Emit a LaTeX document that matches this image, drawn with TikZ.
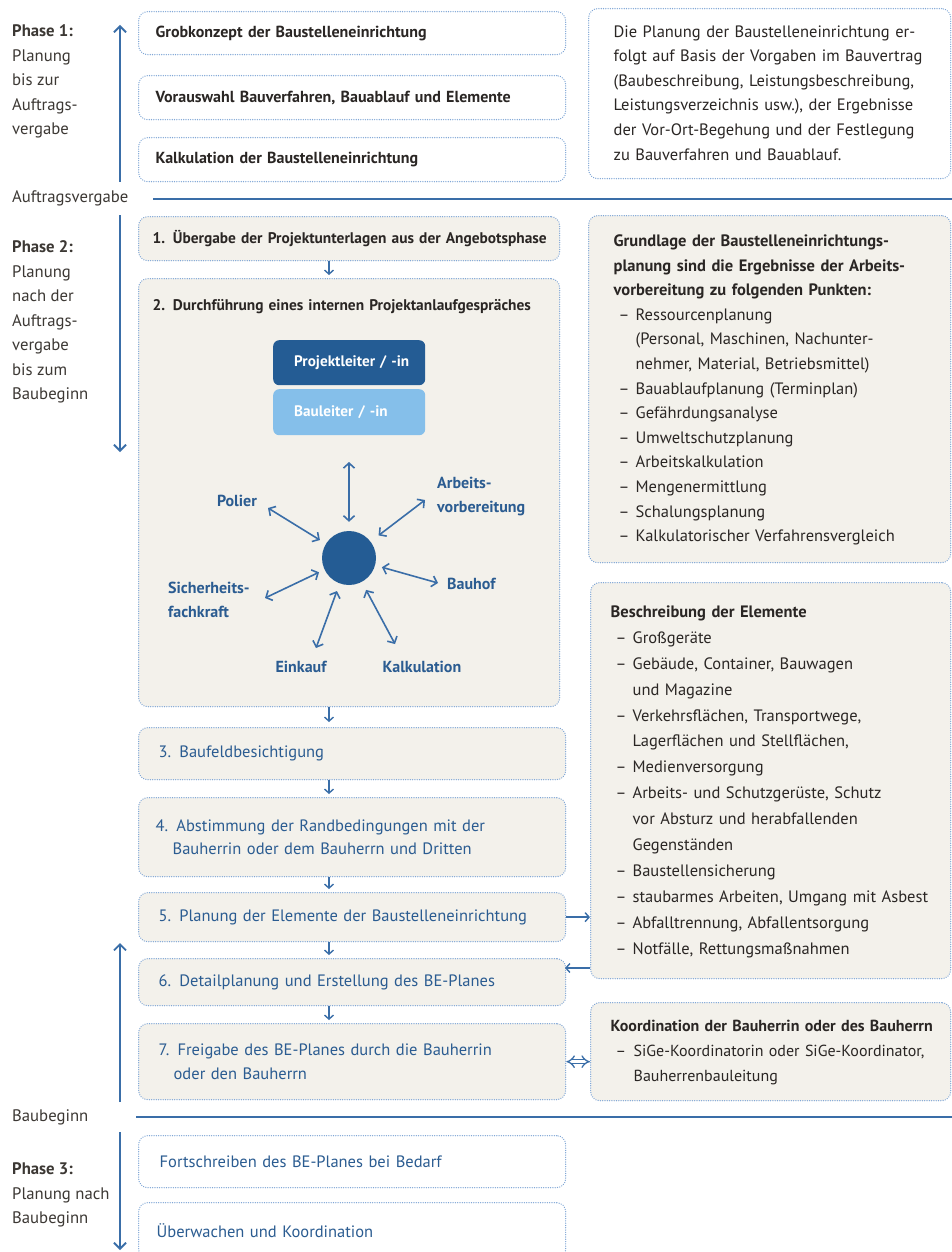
\documentclass[tikz,border=0pt]{standalone}
\usepackage{fontspec}
\setmainfont{PT Sans}
\usetikzlibrary{arrows.meta,calc}
\definecolor{lnblue}{HTML}{3A6EA8}
\definecolor{dotblue}{HTML}{7FA6D6}
\definecolor{beige}{HTML}{F3F1EB}
\definecolor{hubblue}{HTML}{245C94}
\definecolor{lightbox}{HTML}{85BFEA}
\definecolor{tblue}{HTML}{2B5C91}
\definecolor{ink}{HTML}{2A2624}
\definecolor{labink}{HTML}{3C3834}
\newcommand{\bitem}[1]{\hspace*{5pt}\makebox[17pt][l]{–}#1}
\newcommand{\bcont}[1]{\hspace*{22pt}#1}
\newcommand{\txtblock}[1]{\begin{tabular}{@{}l@{}}#1\end{tabular}}
\begin{document}
\begin{tikzpicture}[x=1pt,y=-1pt,
  bx/.style={rectangle, rounded corners=9pt, draw=dotblue, line width=1.3pt, line cap=round,
     dash pattern=on 0.1pt off 2.2pt, fill=white, text width=393pt, inner xsep=17pt,
     inner ysep=0pt, align=left, anchor=north west},
  bxb/.style={bx, fill=beige},
  boldtxt/.style={font=\fontsize{16}{23}\selectfont\bfseries, text=ink},
  boldnarrow/.style={font=\fontsize{15.4}{23}\selectfont\bfseries, text=ink},
  bluetxt/.style={font=\fontsize{16.5}{23.5}\selectfont, text=tblue},
  sidetxt/.style={font=\fontsize{16.5}{24.6}\selectfont, text=ink},
  lab/.style={font=\fontsize{16.7}{24.5}\selectfont, text=labink, align=left, anchor=west, inner sep=0pt},
  star/.style={font=\fontsize{16}{24}\selectfont\bfseries, text=tblue, align=left, inner sep=0pt},
  flow/.style={draw=lnblue, line width=1.4pt, -{Straight Barb[length=4pt,width=9pt]}},
  phase/.style={draw=lnblue, line width=1.8pt, -{Straight Barb[length=6pt,width=12pt]}},
  spoke/.style={draw=lnblue, line width=1.6pt, {Straight Barb[length=5pt,width=11pt]}-{Straight Barb[length=5pt,width=11pt]}},
  sep/.style={draw=lnblue, line width=2pt},
  rolebox/.style={rectangle, rounded corners=6pt, text width=110pt, inner xsep=21pt, inner ysep=0pt,
      anchor=north west, align=left, font=\fontsize{15.2}{20}\selectfont\bfseries, text=white},
]
\fill[white] (0,0) rectangle (952,1252);
\useasboundingbox (0,0) rectangle (952,1252);

% ---------- left labels ----------
\node[lab] (ph1) at (12,81.5) {\textbf{Phase 1:}\\Planung\\bis zur\\Auftrags-\\vergabe};
\node[lab] (auv) at (12,198) {Auftragsvergabe};
\node[lab] (ph2) at (12,322) {\textbf{Phase 2:}\\Planung\\nach der\\Auftrags-\\vergabe\\bis zum\\Baubeginn};
\node[lab] (bbg) at (12,1117) {Baubeginn};
\node[lab] (ph3) at (12,1195) {\textbf{Phase 3:}\\Planung nach\\Baubeginn};

% ---------- phase arrows and separators ----------
\coordinate (p1s) at (120,182); \coordinate (p1e) at (120,25);
\coordinate (p2s) at (120,215); \coordinate (p2e) at (120,452);
\coordinate (p2bs) at (120,1102); \coordinate (p2be) at (120,943);
\coordinate (p3s) at (120,1132); \coordinate (p3e) at (120,1250);
\draw[phase] (p1s) -- (p1e);
\draw[phase] (p2s) -- (p2e);
\draw[phase] (p2bs) -- (p2be);
\draw[phase] (p3s) -- (p3e);
\coordinate (av1) at (153,199); \coordinate (av2) at (952,199);
\coordinate (bb1) at (136,1117); \coordinate (bb2) at (952,1117);
\draw[sep] (av1) -- (av2);
\draw[sep, line width=2.6pt] (bb1) -- (bb2);

% ---------- phase 1 ----------
\node[bx, boldtxt, minimum height=43pt] (g1) at (138,11) {Grobkonzept der Baustelleneinrichtung};
\node[bx, boldtxt, minimum height=44pt] (g2) at (138,75) {Vorauswahl Bauverfahren, Bauablauf und Elemente};
\node[bx, boldtxt, minimum height=44pt] (g3) at (138,137) {Kalkulation der Baustelleneinrichtung};

\node[bx, sidetxt, text width=312pt, inner xsep=25pt, minimum height=170pt] (info) at (588,8)
 {\txtblock{Die Planung der Baustelleneinrichtung er-\\
  folgt auf Basis der Vorgaben im Bauvertrag\\
  (Baubeschreibung, Leistungsbeschreibung,\\
  Leistungsverzeichnis usw.), der Ergebnisse\\
  der Vor-Ort-Begehung und der Festlegung\\
  zu Bauverfahren und Bauablauf.}};

% ---------- phase 2 ----------
\node[bxb, boldnarrow, minimum height=44pt, inner xsep=14pt] (b1) at (138,216) {\mbox{1. Übergabe der Projektunterlagen aus der Angebotsphase}};
\node[bxb, boldnarrow, inner xsep=14pt, text height=32pt, text depth=396pt] (b2) at (138,278) {\mbox{2. Durchführung eines internen Projektanlaufgespräches}};

\node[rolebox, fill=hubblue, minimum height=45pt] (pl) at (273,340) {\mbox{Projektleiter / -in}};
\node[rolebox, fill=lightbox, minimum height=46pt] (bl) at (273,389) {\mbox{Bauleiter / -in}};

\node[circle, fill=hubblue, minimum size=54pt, inner sep=0pt] (hub) at (349,558) {};
\node[star, anchor=center] (polier) at (237,501) {Polier};
\node[star, anchor=west] (avb) at (437,497) {Arbeits-\\vorbereitung};
\node[star, anchor=west] (bauhof) at (447,584) {Bauhof};
\node[star, anchor=west] (sifa) at (168,600) {Sicherheits-\\fachkraft};
\node[star, anchor=center] (einkauf) at (301,667) {Einkauf};
\node[star, anchor=center] (kalk) at (422,667) {Kalkulation};

\coordinate (sUp) at (349,462);
\coordinate (sPol) at (268,508);
\coordinate (sAvb) at (425,500);
\coordinate (sBau) at (438,583);
\coordinate (sSif) at (265,598);
\coordinate (sEin) at (316,648);
\coordinate (sKal) at (395,644);
\draw[spoke, shorten >=9pt] (sUp) -- (hub);
\draw[spoke, shorten >=7pt] (sPol) -- (hub);
\draw[spoke, shorten >=10pt] (sAvb) -- (hub);
\draw[spoke, shorten >=7pt] (sBau) -- (hub);
\draw[spoke, shorten >=6pt] (sSif) -- (hub);
\draw[spoke, shorten >=8pt] (sEin) -- (hub);
\draw[spoke, shorten >=9pt] (sKal) -- (hub);

\node[bxb, bluetxt, minimum height=52pt] (b3) at (138,727) {\hspace*{3pt}3. Baufeldbesichtigung};
\node[bxb, bluetxt, minimum height=79pt] (b4) at (138,797) {4. Abstimmung der Randbedingungen mit der\\\hspace*{17pt}Bauherrin oder dem Bauherrn und Dritten};
\node[bxb, bluetxt, minimum height=49pt] (b5) at (138,892) {\hspace*{3pt}5. Planung der Elemente der Baustelleneinrichtung};
\node[bxb, bluetxt, minimum height=47pt] (b6) at (138,958) {\hspace*{3pt}6. Detailplanung und Erstellung des BE-Planes};
\node[bxb, bluetxt, minimum height=76pt] (b7) at (138,1023) {\hspace*{3pt}7. Freigabe des BE-Planes durch die Bauherrin\\\hspace*{18pt}oder den Bauherrn};

\coordinate (fx) at (329,0);
\draw[flow, shorten >=3pt] (b1.south -| fx) -- (b2.north -| fx);
\draw[flow, shorten >=5pt] (b2.south -| fx) -- (b3.north -| fx);
\draw[flow, shorten >=3pt] (b3.south -| fx) -- (b4.north -| fx);
\draw[flow, shorten >=3pt] (b4.south -| fx) -- (b5.north -| fx);
\draw[flow, shorten >=3pt] (b5.south -| fx) -- (b6.north -| fx);
\draw[flow, shorten >=3pt] (b6.south -| fx) -- (b7.north -| fx);

% ---------- phase 3 ----------
\node[bx, bluetxt, minimum height=52pt] (f1) at (138,1135) {\hspace*{4pt}Fortschreiben des BE-Planes bei Bedarf};
\node[bx, bluetxt, minimum height=56pt] (f2) at (138,1202) {\hspace*{1pt}Überwachen und Koordination};

% ---------- right column ----------
\node[bxb, sidetxt, text width=312pt, inner xsep=25pt, minimum height=347pt] (grund) at (588,215)
 {\txtblock{\textbf{Grundlage der Baustelleneinrichtungs-}\\
  \textbf{planung sind die Ergebnisse der Arbeits-}\\
  \textbf{vorbereitung zu folgenden Punkten:}\\
  \bitem{Ressourcenplanung}\\
  \bcont{(Personal, Maschinen, Nachunter-}\\
  \bcont{nehmer, Material, Betriebsmittel)}\\
  \bitem{Bauablaufplanung (Terminplan)}\\
  \bitem{Gefährdungsanalyse}\\
  \bitem{Umweltschutzplanung}\\
  \bitem{Arbeitskalkulation}\\
  \bitem{Mengenermittlung}\\
  \bitem{Schalungsplanung}\\
  \bitem{Kalkulatorischer Verfahrensvergleich}}};

\node[bxb, font=\fontsize{16.5}{25.9}\selectfont, text=ink, text width=320pt, inner xsep=20pt, minimum height=396pt] (beschr) at (590,582)
 {\txtblock{\textbf{Beschreibung der Elemente}\\
  \bitem{Großgeräte}\\
  \bitem{Gebäude, Container, Bauwagen}\\
  \bcont{und Magazine}\\
  \bitem{Verkehrsflächen, Transportwege,}\\
  \bcont{Lagerflächen und Stellflächen,}\\
  \bitem{Medienversorgung}\\
  \bitem{Arbeits- und Schutzgerüste, Schutz}\\
  \bcont{vor Absturz und herabfallenden}\\
  \bcont{Gegenständen}\\
  \bitem{Baustellensicherung}\\
  \bitem{staubarmes Arbeiten, Umgang mit Asbest}\\
  \bitem{Abfalltrennung, Abfallentsorgung}\\
  \bitem{Notfälle, Rettungsmaßnahmen}}};

\node[bxb, font=\fontsize{16}{25}\selectfont, text=ink, text width=320pt, inner xsep=20pt, minimum height=98pt] (koord) at (590,1002)
 {\txtblock{\textbf{Koordination der Bauherrin oder des Bauherrn}\\
  \hspace*{5pt}\makebox[18pt][l]{–}SiGe-Koordinatorin oder SiGe-Koordinator,\\
  \hspace*{23pt}Bauherrenbauleitung}};

\draw[flow] (b5.east) -- (beschr.west |- b5.east);
\coordinate (b6in) at (565,968);
\draw[flow] (beschr.west |- b6in) -- (b6in);
\draw[draw=lnblue, line width=1.3pt, double, double distance=3pt, {Implies}-{Implies}] (b7.east) -- (koord.west |- b7.east);

\end{tikzpicture}
\end{document}
